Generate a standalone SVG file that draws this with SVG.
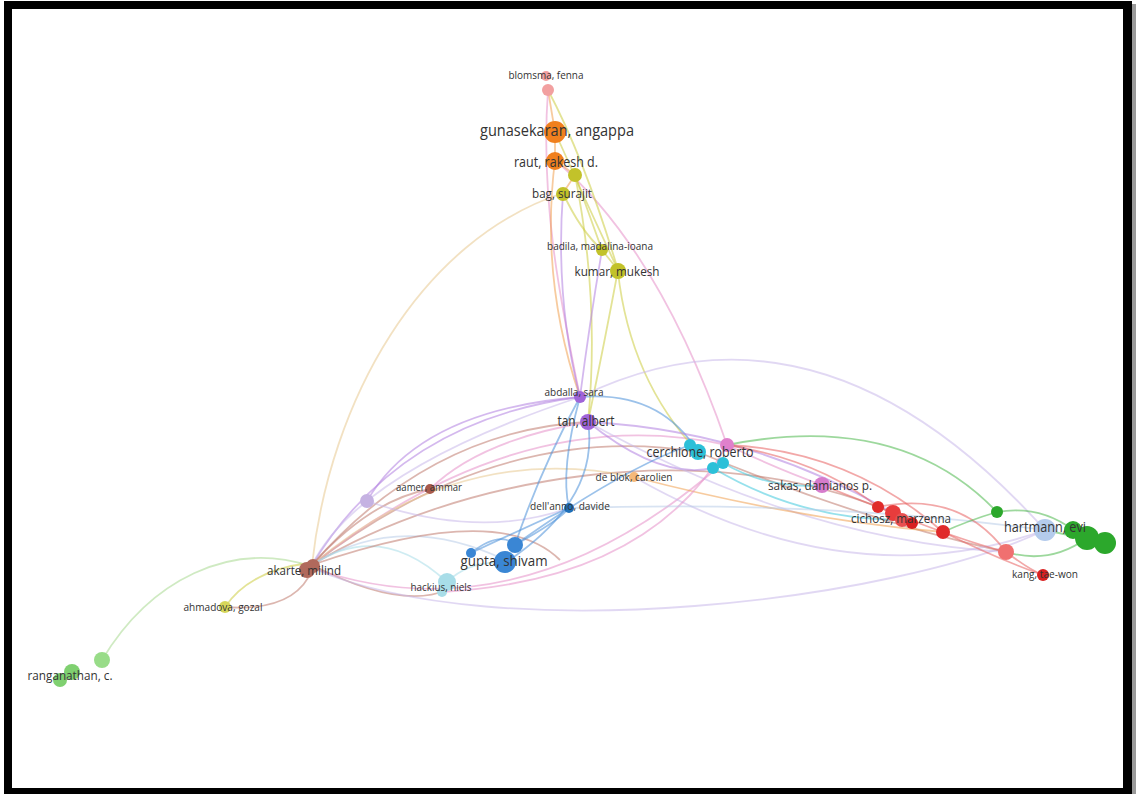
<svg xmlns="http://www.w3.org/2000/svg" width="1136" height="794" viewBox="0 0 1136 794">
<style>
.e{fill:none;stroke-width:1.8;stroke-opacity:0.55}
.or{stroke:#f0a050}.pk{stroke:#e58fc8}.yl{stroke:#cccc40}.pu{stroke:#b07fe0}.lv{stroke:#c9b8ea}
.bl{stroke:#4a8fd8}.br{stroke:#bf7a6e}.cy{stroke:#40c8dc}.rd{stroke:#e86060}.gr{stroke:#4cb84c}
.lg{stroke:#a8d890}.tn{stroke:#e8c890}.lb{stroke:#b8cce8}.lc{stroke:#a8dde8}
text{font-family:"Open Sans","Liberation Sans",sans-serif;fill:#333}
.n{stroke:none}
</style>
<rect x="0" y="0" width="1136" height="794" fill="#ffffff"/>
<rect x="1132" y="4" width="4" height="790" fill="#9a9a9a"/>
<rect x="4" y="1" width="1128" height="793" fill="#000"/>
<rect x="12" y="9" width="1111" height="779" fill="#fff"/>
<g id="connectors">
<path class="e tn" d="M312,565 C330,400 420,240 563,193"/>
<path class="e lg" d="M102,660 C150,580 230,540 310,566"/>
<path class="e yl" d="M225,607 Q250,570 310,563"/>
<path class="e br" d="M225,607 Q295,612 312,570"/>
<path class="e pu" d="M312,565 Q400,420 580,397"/>
<path class="e lv" d="M312,565 Q360,470 580,397"/>
<path class="e br" d="M312,565 Q430,430 588,422"/>
<path class="e br" d="M312,565 Q500,420 698,452"/>
<path class="e pk" d="M312,565 Q520,400 727,445"/>
<path class="e br" d="M312,565 C450,480 700,430 893,513"/>
<path class="e tn" d="M312,565 Q460,440 634,477"/>
<path class="e br" d="M312,565 Q370,500 430,489"/>
<path class="e lv" d="M367,501 Q480,540 569,508"/>
<path class="e lb" d="M312,565 Q400,510 505,560"/>
<path class="e lc" d="M312,565 Q380,520 447,582"/>
<path class="e br" d="M312,565 Q400,610 447,590"/>
<path class="e pk" d="M312,568 Q520,640 723,463"/>
<path class="e br" d="M312,565 Q500,500 560,560"/>
<path class="e lv" d="M312,568 C500,650 900,600 1045,530"/>
<path class="e or" d="M548,90 L555,132 L555,160"/>
<path class="e pk" d="M548,90 C540,200 560,300 580,397"/>
<path class="e or" d="M555,160 Q540,280 580,397"/>
<path class="e pu" d="M563,193 Q555,300 580,397"/>
<path class="e yl" d="M575,175 Q600,300 588,422"/>
<path class="e pu" d="M602,250 Q590,320 580,397"/>
<path class="e yl" d="M618,270 Q605,340 588,422"/>
<path class="e pk" d="M555,160 Q660,250 727,445"/>
<path class="e yl" d="M618,272 Q630,380 698,452"/>
<path class="e yl" d="M548,90 Q585,160 618,270"/>
<path class="e yl" d="M555,132 Q585,200 618,270"/>
<path class="e yl" d="M575,175 L602,250 L618,270"/>
<path class="e yl" d="M563,193 Q580,230 602,250"/>
<path class="e or" d="M555,160 L575,175 L563,193"/>
<path class="e lv" d="M580,397 Q820,280 1045,530"/>
<path class="e pu" d="M580,397 Q420,410 367,501"/>
<path class="e bl" d="M580,397 Q540,470 515,545"/>
<path class="e bl" d="M580,397 Q560,470 569,508"/>
<path class="e bl" d="M580,397 Q660,390 698,452"/>
<path class="e pu" d="M588,422 Q750,430 893,513"/>
<path class="e pu" d="M588,422 Q660,480 713,468"/>
<path class="e pk" d="M588,422 Q480,440 430,489"/>
<path class="e lv" d="M588,422 Q800,540 1006,552"/>
<path class="e rd" d="M727,445 Q820,460 878,507"/>
<path class="e rd" d="M727,445 Q850,450 943,532"/>
<path class="e br" d="M698,452 Q860,520 1006,552"/>
<path class="e gr" d="M727,445 Q900,410 997,512"/>
<path class="e cy" d="M723,463 Q770,490 822,485"/>
<path class="e cy" d="M713,468 Q800,520 902,520"/>
<path class="e pk" d="M727,445 Q780,470 822,485"/>
<path class="e lv" d="M634,477 Q850,600 1045,530"/>
<path class="e or" d="M634,477 Q800,520 943,532"/>
<path class="e bl" d="M515,545 Q560,520 569,508"/>
<path class="e bl" d="M505,563 Q600,500 588,422"/>
<path class="e bl" d="M471,553 Q520,530 569,508"/>
<path class="e bl" d="M515,545 Q620,470 690,445"/>
<path class="e bl" d="M471,553 Q500,530 515,545"/>
<path class="e lc" d="M447,582 Q470,560 505,563"/>
<path class="e pk" d="M442,592 Q650,580 727,445"/>
<path class="e lb" d="M569,508 Q820,500 1045,530"/>
<path class="e rd" d="M822,485 Q860,500 893,513"/>
<path class="e rd" d="M893,513 Q960,540 1006,552"/>
<path class="e rd" d="M1006,552 Q1030,570 1043,575"/>
<path class="e rd" d="M943,532 Q1000,560 1043,575"/>
<path class="e rd" d="M878,507 Q960,490 1006,552"/>
<path class="e gr" d="M943,532 Q970,520 997,512"/>
<path class="e gr" d="M997,512 Q1040,505 1073,530"/>
<path class="e gr" d="M1006,552 Q1050,565 1087,538"/>
<path class="e gr" d="M1045,530 L1105,543"/>
</g>
<g id="node-blomsma"><circle class="n" cx="546" cy="76" r="5" fill="#f2a0a0"/><circle class="n" cx="548" cy="90" r="6" fill="#f2a0a0"/><text x="546" y="79" font-size="11" text-anchor="middle" textLength="75" lengthAdjust="spacingAndGlyphs">blomsma, fenna</text></g>
<g id="node-gunasekaran"><circle class="n" cx="555" cy="132" r="11" fill="#f0801e"/><text x="557" y="136" font-size="17" text-anchor="middle" textLength="154" lengthAdjust="spacingAndGlyphs">gunasekaran, angappa</text></g>
<g id="node-raut"><circle class="n" cx="555" cy="161" r="9" fill="#f0801e"/><text x="556" y="167" font-size="14" text-anchor="middle" textLength="84" lengthAdjust="spacingAndGlyphs">raut, rakesh d.</text></g>
<g id="node-yellow1"><circle class="n" cx="575" cy="175" r="7" fill="#c2c22a"/></g>
<g id="node-bag"><circle class="n" cx="563" cy="194" r="7" fill="#c2c22a"/><text x="562" y="198" font-size="13" text-anchor="middle" textLength="60" lengthAdjust="spacingAndGlyphs">bag, surajit</text></g>
<g id="node-badila"><circle class="n" cx="602" cy="250" r="6" fill="#c2c22a"/><text x="600" y="250" font-size="11" text-anchor="middle" textLength="106" lengthAdjust="spacingAndGlyphs">badila, madalina-ioana</text></g>
<g id="node-kumar"><circle class="n" cx="618" cy="271" r="8" fill="#c2c22a"/><text x="617" y="276" font-size="13" text-anchor="middle" textLength="85" lengthAdjust="spacingAndGlyphs">kumar, mukesh</text></g>
<g id="node-abdalla"><circle class="n" cx="580" cy="397" r="6" fill="#a064d8"/><text x="574" y="396" font-size="11" text-anchor="middle" textLength="59" lengthAdjust="spacingAndGlyphs">abdalla, sara</text></g>
<g id="node-tan"><circle class="n" cx="588" cy="422" r="8" fill="#a064d8"/><text x="586" y="426" font-size="14" text-anchor="middle" textLength="57" lengthAdjust="spacingAndGlyphs">tan, albert</text></g>
<g id="node-cerchione"><circle class="n" cx="690" cy="445" r="6" fill="#2cc0d8"/><circle class="n" cx="698" cy="452" r="8" fill="#2cc0d8"/><circle class="n" cx="713" cy="468" r="6" fill="#2cc0d8"/><circle class="n" cx="723" cy="463" r="6" fill="#2cc0d8"/><circle class="n" cx="727" cy="445" r="7" fill="#e080cc"/><text x="700" y="457" font-size="14" text-anchor="middle" textLength="107" lengthAdjust="spacingAndGlyphs">cerchione, roberto</text></g>
<g id="node-deblok"><circle class="n" cx="634" cy="477" r="5" fill="#f5b878"/><text x="634" y="481" font-size="11" text-anchor="middle" textLength="77" lengthAdjust="spacingAndGlyphs">de blok, carolien</text></g>
<g id="node-dellanno"><circle class="n" cx="569" cy="508" r="5" fill="#1f6fb8"/><text x="570" y="510" font-size="11" text-anchor="middle" textLength="80" lengthAdjust="spacingAndGlyphs">dell'anno, davide</text></g>
<g id="node-aamer"><circle class="n" cx="430" cy="489" r="5" fill="#a85a4c"/><text x="429" y="491" font-size="11" text-anchor="middle" textLength="66" lengthAdjust="spacingAndGlyphs">aamer, ammar</text></g>
<g id="node-lavender"><circle class="n" cx="367" cy="501" r="7" fill="#c5b2e2"/></g>
<g id="node-gupta"><circle class="n" cx="471" cy="553" r="5" fill="#3a86d4"/><circle class="n" cx="515" cy="545" r="8" fill="#3a86d4"/><circle class="n" cx="505" cy="562" r="11" fill="#3a86d4"/><text x="504" y="566" font-size="15" text-anchor="middle" textLength="87" lengthAdjust="spacingAndGlyphs">gupta, shivam</text></g>
<g id="node-hackius"><circle class="n" cx="447" cy="582" r="9" fill="#a8dde8"/><circle class="n" cx="442" cy="592" r="5" fill="#a8dde8"/><text x="441" y="591" font-size="11" text-anchor="middle" textLength="61" lengthAdjust="spacingAndGlyphs">hackius, niels</text></g>
<g id="node-akarte"><circle class="n" cx="307" cy="570" r="8" fill="#b0695c"/><circle class="n" cx="313" cy="566" r="7" fill="#b0695c"/><text x="304" y="575" font-size="13" text-anchor="middle" textLength="74" lengthAdjust="spacingAndGlyphs">akarte, milind</text></g>
<g id="node-ahmadova"><circle class="n" cx="225" cy="607" r="6" fill="#d6d65a"/><text x="223" y="611" font-size="11" text-anchor="middle" textLength="79" lengthAdjust="spacingAndGlyphs">ahmadova, gozal</text></g>
<g id="node-ranganathan"><circle class="n" cx="102" cy="660" r="8" fill="#98dc88"/><circle class="n" cx="72" cy="672" r="8" fill="#7fd070"/><circle class="n" cx="60" cy="680" r="7" fill="#7fd070"/><text x="70" y="680" font-size="13" text-anchor="middle" textLength="85" lengthAdjust="spacingAndGlyphs">ranganathan, c.</text></g>
<g id="node-sakas"><circle class="n" cx="822" cy="485" r="8" fill="#d67ccc"/><text x="820" y="490" font-size="13" text-anchor="middle" textLength="104" lengthAdjust="spacingAndGlyphs">sakas, damianos p.</text></g>
<g id="node-cichosz"><circle class="n" cx="878" cy="507" r="6" fill="#e02a2a"/><circle class="n" cx="893" cy="513" r="8" fill="#e83c3c"/><circle class="n" cx="902" cy="520" r="7" fill="#e85050"/><circle class="n" cx="912" cy="523" r="6" fill="#d82020"/><circle class="n" cx="943" cy="532" r="7" fill="#e02a2a"/><text x="901" y="523" font-size="13" text-anchor="middle" textLength="100" lengthAdjust="spacingAndGlyphs">cichosz, marzenna</text></g>
<g id="node-green1"><circle class="n" cx="997" cy="512" r="6" fill="#2ca82c"/></g>
<g id="node-lightred"><circle class="n" cx="1006" cy="552" r="8" fill="#f07070"/></g>
<g id="node-hartmann"><circle class="n" cx="1045" cy="530" r="11" fill="#b4cbec"/><circle class="n" cx="1073" cy="530" r="9" fill="#2ca82c"/><circle class="n" cx="1087" cy="538" r="12" fill="#2ca82c"/><circle class="n" cx="1105" cy="543" r="11" fill="#2ca82c"/><text x="1045" y="532" font-size="14" text-anchor="middle" textLength="82" lengthAdjust="spacingAndGlyphs">hartmann, evi</text></g>
<g id="node-kang"><circle class="n" cx="1043" cy="575" r="6" fill="#d82020"/><text x="1045" y="578" font-size="11" text-anchor="middle" textLength="66" lengthAdjust="spacingAndGlyphs">kang, tae-won</text></g>
</svg>
